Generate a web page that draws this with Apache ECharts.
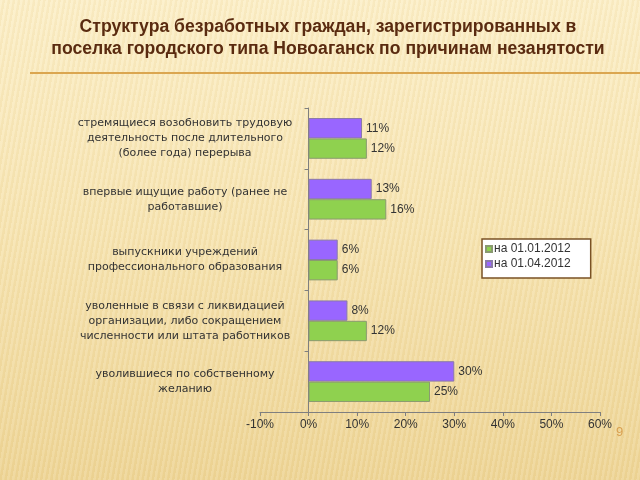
<!DOCTYPE html>
<html>
<head>
<meta charset="utf-8">
<script src="https://cdn.jsdelivr.net/npm/echarts@6/dist/echarts.min.js"></script>
<style>
html,body{margin:0;padding:0;width:640px;height:480px;overflow:hidden;}
body{background:
 repeating-linear-gradient(100deg, rgba(255,255,255,0.10) 0px, rgba(255,255,255,0.10) 2px, rgba(200,160,80,0.07) 3px, rgba(200,160,80,0.07) 5px),
 linear-gradient(180deg,#fcefc8 0%,#f7e5b3 45%,#eed596 100%);}
#c{width:640px;height:480px;}
</style>
</head>
<body>
<div id="c"></div>
<script>
var categories = [
  'стремящиеся возобновить трудовую\nдеятельность после длительного\n(более года) перерыва',
  'впервые ищущие работу (ранее не\nработавшие)',
  'выпускники учреждений\nпрофессионального образования',
  'уволенные в связи с ликвидацией\nорганизации, либо сокращением\nчисленности или штата работников',
  'уволившиеся по собственному\nжеланию'
];
var seriesJan = [12, 16, 6, 12, 25];   // на 01.01.2012
var seriesApr = [11, 13, 6, 8, 30];    // на 01.04.2012
var nameJan = 'на 01.01.2012';
var nameApr = 'на 01.04.2012';
var titleLines = 'Структура безработных граждан, зарегистрированных в\nпоселка городского типа Новоаганск по причинам незанятости';

var chart = echarts.init(document.getElementById('c'), null, {renderer:'canvas'});
var labelStyle = {show:true, position:'right', formatter:'{c}%', color:'#333', fontSize:12, fontFamily:'Liberation Sans, Arial, sans-serif', distance:4};
chart.setOption({
  backgroundColor:'transparent',
  animation:false,
  title:{
    text:titleLines, left:323, top:11, textAlign:'center',
    textStyle:{fontSize:17.6, fontWeight:'bold', color:'#5a2b10', fontFamily:'Liberation Sans, Arial, sans-serif', lineHeight:22}
  },
  graphic:[
    {type:'line', shape:{x1:30,y1:73,x2:640,y2:73}, style:{stroke:'#dba650', lineWidth:2}},
    {type:'text', left:616, top:426, style:{text:'9', fill:'#d9a050', fontSize:13, fontFamily:'Liberation Sans, Arial, sans-serif'}}
  ],
  legend:{
    orient:'vertical', left:482, top:239, data:[nameJan, nameApr],
    backgroundColor:'#ffffff', borderColor:'#7a5224', borderWidth:1.5,
    padding:[4,20,8,3], itemWidth:6, itemHeight:6, itemGap:3, icon:'rect',
    textStyle:{fontSize:12, color:'#333', fontFamily:'Liberation Sans, Arial, sans-serif', padding:[0,0,0,-3]}
  },
  grid:{left:260, right:40, top:108, bottom:68, containLabel:false},
  xAxis:{
    type:'value', min:-10, max:60, interval:10,
    axisLabel:{formatter:'{value}%', color:'#333', fontSize:12, fontFamily:'Liberation Sans, Arial, sans-serif', margin:7},
    axisLine:{show:true, lineStyle:{color:'#7f7f7f'}},
    axisTick:{show:true, length:4, lineStyle:{color:'#7f7f7f'}},
    splitLine:{show:false}
  },
  yAxis:{
    type:'category', data:categories, inverse:true,
    axisLine:{show:true, onZero:true, lineStyle:{color:'#7f7f7f'}},
    axisTick:{show:true, length:4, lineStyle:{color:'#7f7f7f'}},
    axisLabel:{align:'center', margin:75, color:'#333', fontSize:11, lineHeight:15, fontFamily:'DejaVu Sans, Verdana, sans-serif'}
  },
  series:[
    {name:nameApr, type:'bar', data:seriesApr, barGap:'0%', barCategoryGap:'33%',
     itemStyle:{color:'#9966ff', borderColor:'#8a7aa8', borderWidth:1}, label:labelStyle},
    {name:nameJan, type:'bar', data:seriesJan, barGap:'0%', barCategoryGap:'33%',
     itemStyle:{color:'#8fd14f', borderColor:'#8a9a70', borderWidth:1}, label:labelStyle}
  ]
});
</script>
</body>
</html>
